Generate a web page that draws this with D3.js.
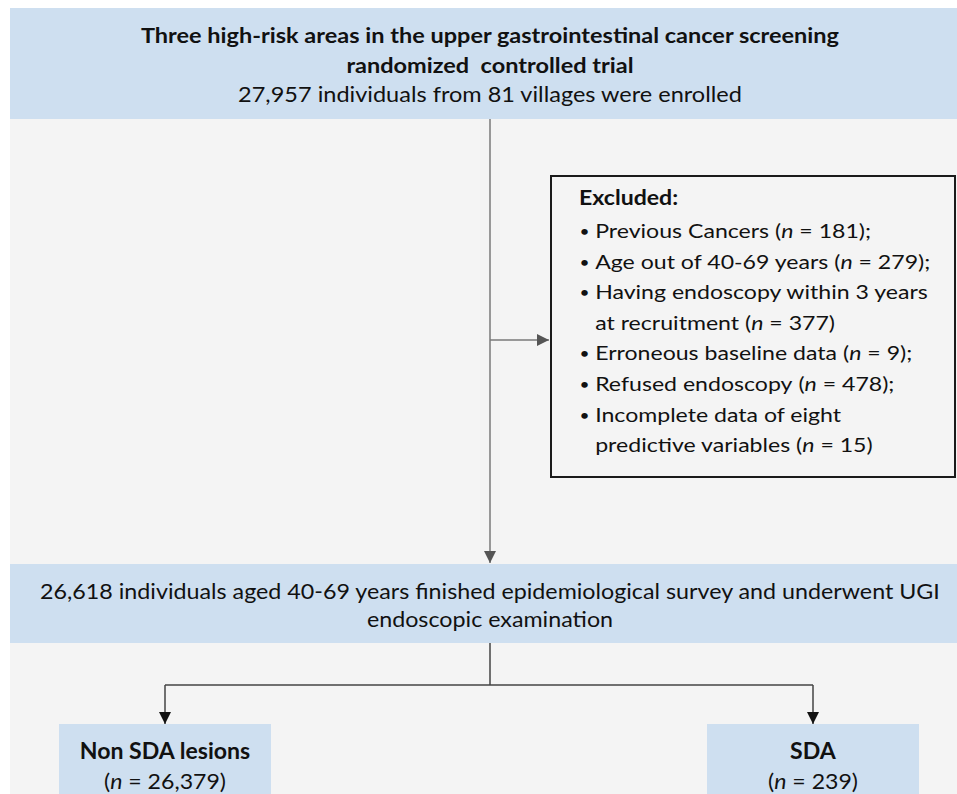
<!DOCTYPE html>
<html>
<head>
<meta charset="utf-8">
<script src="https://cdn.jsdelivr.net/npm/d3@7"></script>
<style>
  body { margin: 0; background: #fff; }
  text { font-family: Lato, "Open Sans", sans-serif; fill: #111; white-space: pre; }
</style>
</head>
<body>
<div class="mainVis"></div>
<script>
// flow chart data
var titleLines = ["Three high-risk areas in the upper gastrointestinal cancer screening", "randomized  controlled trial"]
var enrolledN = 27957
var villageN = 81
var excludedLabels = [
  ["Previous Cancers"],
  ["Age out of 40-69 years"],
  ["Having endoscopy within 3 years", "at recruitment"],
  ["Erroneous baseline data"],
  ["Refused endoscopy"],
  ["Incomplete data of eight", "predictive variables"]
]
var excludedN = [181, 279, 377, 9, 478, 15]
var excludedEnd = [";", ";", "", ";", ";", ""]
var screenedN = 26618
var groupNames = ["Non SDA lesions", "SDA"]
var groupN = [26379, 239]

var width = 957, height = 794
var fmt = d3.format(",")
var blue = "#cedff0", grey = "#f4f4f4"
var cx = 490

// the original lettering is a bit wider than Lato, so each text block gets stretched sideways
function stretch(x, s) {
  return "translate(" + x + ",0) scale(" + s + ",1) translate(" + (-x) + ",0)"
}

var svg = d3.select(".mainVis")
  .append("svg")
  .attr("width", width)
  .attr("height", height)

svg.append("defs").selectAll("marker")
  .data([{ id: "headGrey", c: "#555" }, { id: "headBlack", c: "#111" }])
  .enter()
  .append("marker")
  .attr("id", function(d) { return d.id })
  .attr("viewBox", "0 0 10 10")
  .attr("refX", 10).attr("refY", 5)
  .attr("markerUnits", "userSpaceOnUse")
  .attr("markerWidth", 13).attr("markerHeight", 12)
  .attr("orient", "auto")
  .append("path")
  .attr("d", "M0,0 L10,5 L0,10 Z")
  .attr("fill", function(d) { return d.c })

// page background
svg.append("rect").attr("x", 10).attr("y", 119).attr("width", width - 10).attr("height", height - 119).attr("fill", grey)

// top box
svg.append("rect").attr("x", 10).attr("y", 8).attr("width", width - 10).attr("height", 111).attr("fill", blue)
var titleG = svg.append("g").attr("transform", stretch(cx, 1.12))
titleLines.forEach(function(t, i) {
  titleG.append("text").attr("x", cx).attr("y", 43 + i * 30)
    .attr("text-anchor", "middle").style("font-size", "21px").style("font-weight", "bold")
    .text(t)
})
titleG.append("text").attr("x", cx).attr("y", 102)
  .attr("text-anchor", "middle").style("font-size", "21px")
  .text(fmt(enrolledN) + " individuals from " + villageN + " villages were enrolled")

// main trunk
svg.append("line").attr("x1", cx).attr("y1", 119).attr("x2", cx).attr("y2", 563)
  .attr("stroke", "#7a7a7a").attr("stroke-width", 1.5).attr("marker-end", "url(#headGrey)")
svg.append("line").attr("x1", cx).attr("y1", 340).attr("x2", 549).attr("y2", 340)
  .attr("stroke", "#7a7a7a").attr("stroke-width", 1.5).attr("marker-end", "url(#headGrey)")

// excluded box
svg.append("rect").attr("x", 551).attr("y", 176).attr("width", 404).attr("height", 301)
  .attr("fill", grey).attr("stroke", "#1a1a1a").attr("stroke-width", 2)
var ex = svg.append("g").attr("transform", "translate(579,0) scale(1.155,1)")
ex.append("text").attr("x", 0).attr("y", 205).style("font-size", "20px").style("font-weight", "bold").text("Excluded:")

var row = 0
excludedLabels.forEach(function(lines, i) {
  lines.forEach(function(line, j) {
    var y = 238 + row * 30.6
    if (j === 0) {
      ex.append("text").attr("x", 0.5).attr("y", y - 1).style("font-size", "15px").text("\u2022")
    }
    var t = ex.append("text").attr("x", 14).attr("y", y).style("font-size", "20px")
    t.append("tspan").text(line)
    if (j === lines.length - 1) {
      t.append("tspan").text(" (")
      t.append("tspan").style("font-style", "italic").text("n")
      t.append("tspan").text(" = " + fmt(excludedN[i]) + ")" + excludedEnd[i])
    }
    row++
  })
})

// screened box
svg.append("rect").attr("x", 10).attr("y", 564).attr("width", width - 10).attr("height", 79).attr("fill", blue)
var mid = svg.append("g").attr("transform", stretch(cx, 1.108))
mid.append("text").attr("x", cx).attr("y", 599).attr("text-anchor", "middle").style("font-size", "21px")
  .text(fmt(screenedN) + " individuals aged 40-69 years finished epidemiological survey and underwent UGI")
mid.append("text").attr("x", cx).attr("y", 627).attr("text-anchor", "middle").style("font-size", "21px")
  .text("endoscopic examination")

// split into groups
var gx = d3.scalePoint().domain(groupNames).range([165, 813])
svg.append("line").attr("x1", cx).attr("y1", 643).attr("x2", cx).attr("y2", 685)
  .attr("stroke", "#444").attr("stroke-width", 1.5)
svg.append("line").attr("x1", gx(groupNames[0])).attr("y1", 685).attr("x2", gx(groupNames[1])).attr("y2", 685)
  .attr("stroke", "#444").attr("stroke-width", 1.5)

var groups = svg.selectAll(".grp")
  .data(groupNames)
  .enter()
  .append("g")
  .attr("class", "grp")

groups.append("line")
  .attr("x1", function(d) { return gx(d) }).attr("y1", 685)
  .attr("x2", function(d) { return gx(d) }).attr("y2", 724)
  .attr("stroke", "#444").attr("stroke-width", 1.5).attr("marker-end", "url(#headBlack)")

groups.append("rect")
  .attr("x", function(d) { return gx(d) - 106 })
  .attr("y", 724).attr("width", 212).attr("height", 80)
  .attr("fill", blue)

var labels = groups.append("g")
  .attr("transform", function(d) { return stretch(gx(d), 1.05) })

labels.append("text")
  .attr("x", function(d) { return gx(d) }).attr("y", 759)
  .attr("text-anchor", "middle").style("font-size", "22px").style("font-weight", "bold")
  .text(function(d) { return d })

var nt = labels.append("text")
  .attr("x", function(d) { return gx(d) }).attr("y", 789)
  .attr("text-anchor", "middle").style("font-size", "22px")
nt.append("tspan").text("(")
nt.append("tspan").style("font-style", "italic").text("n")
nt.append("tspan").text(function(d, i) { return " = " + fmt(groupN[i]) + ")" })
</script>
</body>
</html>
